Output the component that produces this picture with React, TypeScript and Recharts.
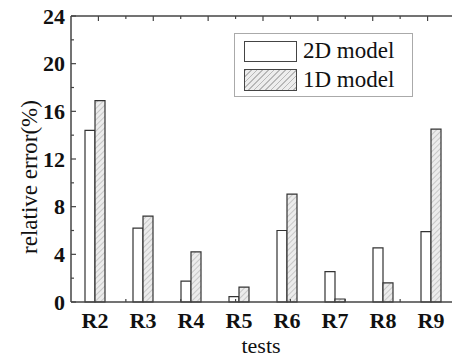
import React from 'react';
import { BarChart, Bar, XAxis, YAxis, Legend, Label } from 'recharts';

const categories = ['R2', 'R3', 'R4', 'R5', 'R6', 'R7', 'R8', 'R9'];
const model2D = [14.4, 6.2, 1.75, 0.45, 6.0, 2.55, 4.55, 5.9];
const model1D = [16.9, 7.2, 4.2, 1.25, 9.05, 0.25, 1.6, 14.5];
const yTicks = [0, 2, 4, 6, 8, 10, 12, 14, 16, 18, 20, 22, 24];
const boundaryTicks = [1, 2, 3, 4, 5, 6, 7];
const topTicks = [0.5, 1, 1.5, 2, 2.5, 3, 3.5, 4, 4.5, 5, 5.5, 6, 6.5, 7, 7.5];

const data = categories.map((name, i) => ({ name, m2: model2D[i], m1: model1D[i] }));

const FONT = "'Liberation Serif', 'Times New Roman', serif";
const AX = '#444';
const TXT = '#111';

const LeftTick = (props: any) => {
  const { x, y, payload } = props;
  const major = payload.value % 4 === 0;
  return (
    <g>
      <line x1={x} x2={x + (major ? 5 : 3)} y1={y} y2={y} stroke={AX} strokeWidth={1.2} />
      {major && (
        <text x={x - 6} y={y} dy="0.35em" textAnchor="end" fontFamily={FONT} fontWeight="bold" fontSize={22} fill={TXT}>
          {payload.value}
        </text>
      )}
    </g>
  );
};

const RightTick = (props: any) => {
  const { x, y, payload } = props;
  const major = payload.value % 4 === 0;
  return <line x1={x} x2={x - (major ? 5 : 3)} y1={y} y2={y} stroke={AX} strokeWidth={1.2} />;
};

const CatTick = (props: any) => {
  const { x, y, payload } = props;
  return (
    <text x={x} y={y + 26} textAnchor="middle" fontFamily={FONT} fontWeight="bold" fontSize={22} fill={TXT}>
      {payload.value}
    </text>
  );
};

const BoundaryTick = (props: any) => {
  const { x, y } = props;
  return <line x1={x} x2={x} y1={y - 1} y2={y - 4} stroke={AX} strokeWidth={1.2} />;
};

const TopTick = (props: any) => {
  const { x, y, payload } = props;
  const major = payload.value % 1 !== 0;
  return <line x1={x} x2={x} y1={y} y2={y + (major ? 5 : 3)} stroke={AX} strokeWidth={1.2} />;
};

const LegendContent = () => (
  <div
    style={{
      position: 'relative',
      width: 179,
      height: 64,
      border: '1px solid #aaa',
      boxSizing: 'border-box',
      background: '#fff',
      fontFamily: FONT,
      fontSize: 23,
      color: TXT,
    }}
  >
    <div style={{ position: 'absolute', left: 9, top: 7, width: 53, height: 21, border: '1.5px solid #444', boxSizing: 'border-box', background: '#fff' }} />
    <div style={{ position: 'absolute', left: 68, top: 2, lineHeight: '30px', whiteSpace: 'nowrap' }}>2D model</div>
    <div
      style={{
        position: 'absolute',
        left: 9,
        top: 35,
        width: 53,
        height: 22,
        border: '1.5px solid #444',
        boxSizing: 'border-box',
        background: 'repeating-linear-gradient(135deg, #b8b8b8 0px, #b8b8b8 1px, #ededed 1px, #ededed 4px)',
      }}
    />
    <div style={{ position: 'absolute', left: 68, top: 31, lineHeight: '30px', whiteSpace: 'nowrap' }}>1D model</div>
  </div>
);

export default function App() {
  return (
    <div style={{ position: 'absolute', left: 0, top: 0, width: 452, height: 359, overflow: 'hidden', background: '#fff' }}>
      <BarChart
        width={460}
        height={359}
        data={data}
        margin={{ top: 15, right: 4, bottom: 55, left: 70 }}
        barGap={0}
        barSize={10}
      >
        <defs>
          <pattern id="hatch" width="4" height="4" patternUnits="userSpaceOnUse" patternTransform="rotate(45)">
            <rect width="4" height="4" fill="#ececec" />
            <line x1="0" y1="0" x2="0" y2="4" stroke="#b3b3b3" strokeWidth="1.3" />
          </pattern>
        </defs>
        <XAxis
          xAxisId="cat"
          dataKey="name"
          type="category"
          height={1}
          tickSize={0}
          tickMargin={0}
          interval={0}
          tickLine={false}
          axisLine={{ stroke: AX, strokeWidth: 1.5 }}
          tick={<CatTick />}
        >
          <Label
            content={(p: any) => {
              const vb = p.viewBox || { x: 71, width: 384, y: 302 };
              return (
                <text x={vb.x + vb.width / 2 - 2} y={353} textAnchor="middle" fontFamily={FONT} fontSize={22} fill={TXT}>
                  tests
                </text>
              );
            }}
          />
        </XAxis>
        <XAxis
          xAxisId="grid"
          type="number"
          domain={[0, 8]}
          ticks={boundaryTicks}
          allowDataOverflow
          height={1}
          tickSize={0}
          tickMargin={0}
          interval={0}
          tickLine={false}
          axisLine={false}
          tick={<BoundaryTick />}
        />
        <XAxis
          xAxisId="top"
          orientation="top"
          type="number"
          domain={[0, 8]}
          ticks={topTicks}
          allowDataOverflow
          height={1}
          tickSize={0}
          tickMargin={0}
          interval={0}
          tickLine={false}
          axisLine={{ stroke: AX, strokeWidth: 1.5 }}
          tick={<TopTick />}
        />
        <YAxis
          yAxisId="l"
          domain={[0, 24]}
          ticks={yTicks}
          width={1}
          tickSize={0}
          tickMargin={0}
          interval={0}
          tickLine={false}
          axisLine={{ stroke: AX, strokeWidth: 1.5 }}
          tick={<LeftTick />}
        >
          <Label
            content={(p: any) => {
              const vb = p.viewBox || { x: 70, y: 16, width: 1, height: 286 };
              const cx = vb.x + vb.width - 34;
              const cy = vb.y + vb.height / 2 + 18;
              return (
                <text
                  x={cx}
                  y={cy}
                  transform={`rotate(-90, ${cx}, ${cy})`}
                  textAnchor="middle"
                  fontFamily={FONT}
                  fontSize={23}
                  fill={TXT}
                >
                  relative error(%)
                </text>
              );
            }}
          />
        </YAxis>
        <YAxis
          yAxisId="r"
          orientation="right"
          domain={[0, 24]}
          ticks={yTicks}
          width={1}
          tickSize={0}
          tickMargin={0}
          interval={0}
          tickLine={false}
          axisLine={{ stroke: AX, strokeWidth: 1.5 }}
          tick={<RightTick />}
        />
        <Legend
          layout="vertical"
          align="center"
          verticalAlign="middle"
          wrapperStyle={{ position: 'absolute', left: 234, top: 33, width: 179, height: 64 }}
          content={<LegendContent />}
        />
        <Bar xAxisId="cat" yAxisId="l" dataKey="m2" name="2D model" fill="#fff" stroke="#333" strokeWidth={1.2} isAnimationActive={false} />
        <Bar xAxisId="cat" yAxisId="l" dataKey="m1" name="1D model" fill="url(#hatch)" stroke="#333" strokeWidth={1.2} isAnimationActive={false} />
      </BarChart>
    </div>
  );
}
